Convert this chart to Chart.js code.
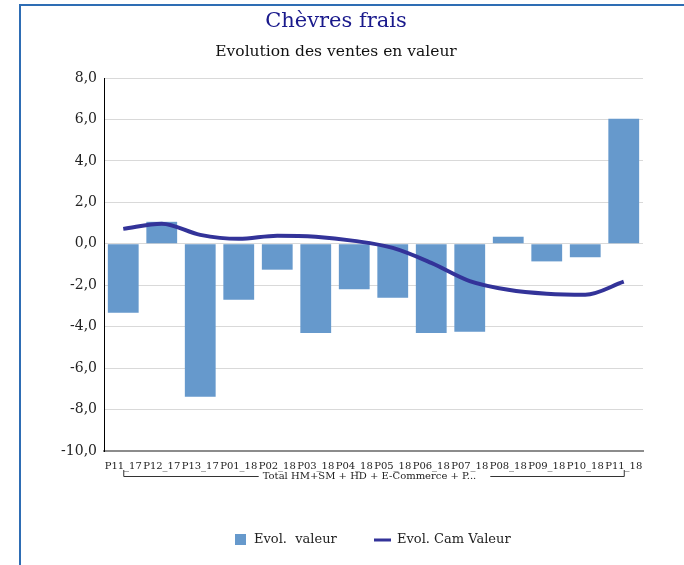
<!DOCTYPE html>
<html>
<head>
<meta charset="utf-8">
<script src="https://cdn.jsdelivr.net/npm/chart.js@4.4.1/dist/chart.umd.min.js"></script>
<style>
  html, body { margin: 0; padding: 0; background: #fff; }
  #wrap { position: relative; width: 684px; height: 565px; }
</style>
</head>
<body>
<div id="wrap"><canvas id="chart" width="684" height="565"></canvas></div>
<script>
// Chart data
const periods = ['P11_17', 'P12_17', 'P13_17', 'P01_18', 'P02_18', 'P03_18', 'P04_18',
                 'P05_18', 'P06_18', 'P07_18', 'P08_18', 'P09_18', 'P10_18', 'P11_18'];
const evolValeur = [-3.33, 1.06, -7.38, -2.70, -1.25, -4.30, -2.20, -2.60, -4.30, -4.25, 0.34, -0.85, -0.65, 6.03];
const evolCamValeur = [0.72, 0.97, 0.43, 0.24, 0.39, 0.34, 0.14, -0.20, -0.92, -1.80, -2.22, -2.41, -2.46, -1.83];
const groupLabel = 'Total HM+SM + HD + E-Commerce + P...';
const chartTitle = 'Chèvres frais';
const chartSubtitle = 'Evolution des ventes en valeur';

const SERIF = '"DejaVu Serif", "Liberation Serif", serif';
const colors = {
    bar: '#6699cc',
    line: '#333399',
    title: '#1a1a8c',
    frame: '#2e6db4',
    grid: '#d9d9d9'
};

// frame, titles, group bracket and legend
const decorations = {
    id: 'decorations',
    beforeDraw(chart) {
        const ctx = chart.ctx;
        ctx.save();
        ctx.strokeStyle = colors.frame;
        ctx.lineWidth = 2;
        ctx.strokeRect(20, 5, 700, 600);
        ctx.restore();
    },
    afterDraw(chart) {
        const ctx = chart.ctx;
        const x = chart.scales.x;
        const barSet = chart.data.datasets.find(d => d.type === 'bar');
        const lineSet = chart.data.datasets.find(d => d.type === 'line');
        ctx.save();

        ctx.textAlign = 'center';
        ctx.textBaseline = 'middle';
        ctx.fillStyle = colors.title;
        ctx.font = '21px ' + SERIF;
        ctx.fillText(chartTitle, 336, 22);
        ctx.fillStyle = '#111';
        ctx.font = '15.5px ' + SERIF;
        ctx.fillText(chartSubtitle, 336, 52);

        // group bracket under the category labels
        const x0 = x.getPixelForValue(0);
        const x1 = x.getPixelForValue(periods.length - 1);
        const yb = 476.5;
        ctx.font = '10px ' + SERIF;
        const mid = (x0 + x1) / 2 - 4;
        const tw = ctx.measureText(groupLabel).width;
        ctx.strokeStyle = '#333';
        ctx.lineWidth = 1;
        ctx.beginPath();
        ctx.moveTo(x0 + 0.5, 470);
        ctx.lineTo(x0 + 0.5, yb);
        ctx.lineTo(mid - tw / 2 - 4, yb);
        ctx.moveTo(mid + tw / 2 + 14, yb);
        ctx.lineTo(x1 + 0.5, yb);
        ctx.lineTo(x1 + 0.5, 470);
        ctx.stroke();
        ctx.fillStyle = '#222';
        ctx.fillText(groupLabel, mid, yb);

        // legend
        const ly = 540;
        ctx.font = '13px ' + SERIF;
        ctx.textAlign = 'left';
        ctx.fillStyle = colors.bar;
        ctx.fillRect(235, ly - 6, 11, 11);
        ctx.fillStyle = '#222';
        ctx.fillText(barSet.label, 254, ly);
        ctx.strokeStyle = colors.line;
        ctx.lineWidth = 3;
        ctx.beginPath();
        ctx.moveTo(374, ly);
        ctx.lineTo(391, ly);
        ctx.stroke();
        ctx.fillText(lineSet.label, 397, ly);

        ctx.restore();
    }
};

new Chart(document.getElementById('chart'), {
    data: {
        labels: periods,
        datasets: [
            {
                type: 'line',
                label: 'Evol. Cam Valeur',
                data: evolCamValeur,
                borderColor: colors.line,
                borderWidth: 4,
                pointRadius: 0,
                cubicInterpolationMode: 'monotone',
                order: 0
            },
            {
                type: 'bar',
                label: 'Evol.  valeur',
                data: evolValeur,
                backgroundColor: colors.bar,
                barPercentage: 0.8,
                categoryPercentage: 1.0,
                order: 1
            }
        ]
    },
    options: {
        responsive: false,
        animation: false,
        layout: { padding: { top: 78, left: 20, right: 41, bottom: 0 } },
        plugins: {
            legend: { display: false },
            tooltip: { enabled: false }
        },
        scales: {
            x: {
                grid: { display: false, drawTicks: false },
                border: { color: '#8c8c8c', width: 2 },
                ticks: {
                    color: '#222',
                    font: { family: SERIF, size: 10 },
                    maxRotation: 0,
                    autoSkip: false,
                    padding: 9
                },
                afterFit(scale) { scale.height = 114; }
            },
            y: {
                min: -10,
                max: 8,
                grid: { color: colors.grid, lineWidth: 1, drawTicks: false },
                border: { color: '#000', width: 1 },
                ticks: {
                    stepSize: 2,
                    color: '#222',
                    padding: 7,
                    font: { family: SERIF, size: 14 },
                    callback: v => v.toFixed(1).replace('.', ',')
                },
                afterFit(scale) { scale.width = 84; }
            }
        }
    },
    plugins: [decorations]
});
</script>
</body>
</html>
